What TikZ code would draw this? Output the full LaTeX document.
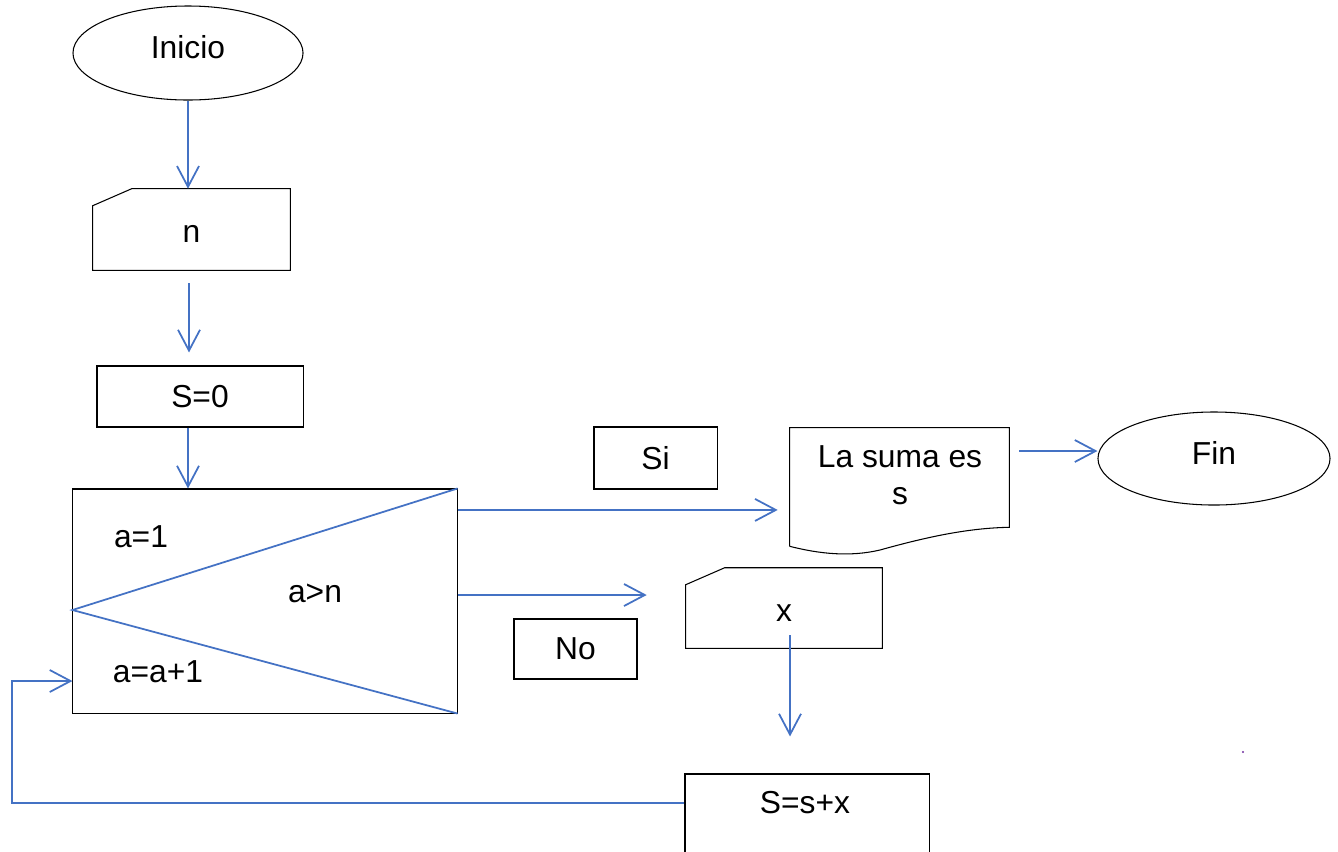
\documentclass[tikz,border=0pt]{standalone}
\usepackage{fontspec}
\setmainfont{Liberation Sans}
\usepackage{tikz}
\usetikzlibrary{calc,positioning,arrows.meta,shapes.geometric}
\definecolor{flowBlue}{HTML}{4472C4}
\definecolor{flowDot}{HTML}{7030A0}

\begin{document}
\begin{tikzpicture}[
  x=0.025cm, y=-0.025cm,
  every node/.style={font=\fontsize{22.6}{26}\selectfont, inner sep=0pt},
  box/.style={draw, line width=0.75pt, rectangle},
  term/.style={draw, line width=0.75pt, ellipse, text depth=0.3cm},
  inshape/.style={rectangle, minimum width=4.9cm, minimum height=2cm, text height=19pt},
  arr/.style={draw=flowBlue, line width=1.25pt, -{Straight Barb[length=0.52cm,width=0.55cm]}},
  tri/.style={draw=flowBlue, line width=1.25pt},
]

% Page frame
\clip (0,0) rectangle (1338,851);

% Main column
\node[term, minimum width=5.75cm, minimum height=2.35cm] (inicio) at (188,53) {Inicio};
\node[inshape, minimum width=4.925cm, minimum height=2.025cm] (nin) at (191.5,229.5) {n};
\node[box, minimum width=5.15cm, minimum height=1.525cm] (s0) at (200,396.5) {S=0};
\node[box, minimum width=9.6cm, minimum height=5.6cm] (loop) at (265,601) {};

% Loop box contents
\node (init) at (141,537) {a=1};
\node (cond) at (315,593) {a>n};
\node (incr) at (158,672) {a=a+1};
\coordinate (tip) at ($(loop.west)+(0,9)$);
\draw[tri] (loop.north east) -- (tip) -- (loop.south east);

% Branch labels
\node[box, minimum width=3.075cm, minimum height=1.55cm] (si) at (655.5,458) {Si};
\node[box, minimum width=3.075cm, minimum height=1.5cm] (no) at (575.5,649) {No};

% Output and end
\node[rectangle, minimum width=5.475cm, minimum height=2.95cm] (suma) at (899.5,487) {};
\node[align=center] (sumatxt) at (900,475) {La suma es\\s};
\node[term, minimum width=5.8cm, minimum height=2.325cm] (fin) at (1214,458.5) {Fin};

% Read x and accumulate
\node[inshape] (xin) at (784,608) {x};
\node[box, minimum width=6.1cm, minimum height=2.65cm] (sum) at (807,827) {};
\node (sumtxt) at (805,803) {S=s+x};

% Manual input outlines
\foreach \k in {nin,xin}
  \draw[line width=0.75pt] ($(\k.north west)+(0,17)$) -- ($(\k.north west)+(39,0)$)
    -- (\k.north east) -- (\k.south east) -- (\k.south west) -- cycle;

% Document outline
\draw[line width=0.75pt] (suma.south west) -- (suma.north west) -- (suma.north east)
  -- ($(suma.south east)+(0,-19)$)
  .. controls (970,528) and (930,536) .. (880,550)
  .. controls (850,557) and (820,554) .. (suma.south west);

% Arrows
\draw[arr] (inicio.south) -- (inicio.south |- nin.north);
\coordinate (nout) at ($(nin.south)+(-2.5,13)$);
\draw[arr, shorten >=0.325cm] (nout) -- (nout |- s0.north);
\draw[arr] (s0.south -| inicio.south) -- (loop.north -| inicio.south);
\coordinate (yes) at ($(loop.north east)+(0,21.5)$);
\draw[arr, shorten >=0.3cm] (yes) -- (yes -| suma.west);
\coordinate (nope) at ($(loop.east)+(0,-6)$);
\draw[arr, shorten >=0.975cm] (nope) -- (nope -| xin.west);
\coordinate (fi) at ($(fin.west)+(0,-7.5)$);
\draw[arr, shorten <=0.25cm] (fi -| suma.east) -- (fi);
\coordinate (xout) at ($(xin.south)+(6,-13)$);
\draw[arr, shorten >=0.925cm] (xout) -- (xout |- sum.north);
\coordinate (back) at (12,681);
\draw[arr] (sumtxt -| sum.west) -| (back) -- (back -| loop.west);

% Stray mark
\fill[flowDot] (1243,752) circle (1.2);

\end{tikzpicture}
\end{document}
